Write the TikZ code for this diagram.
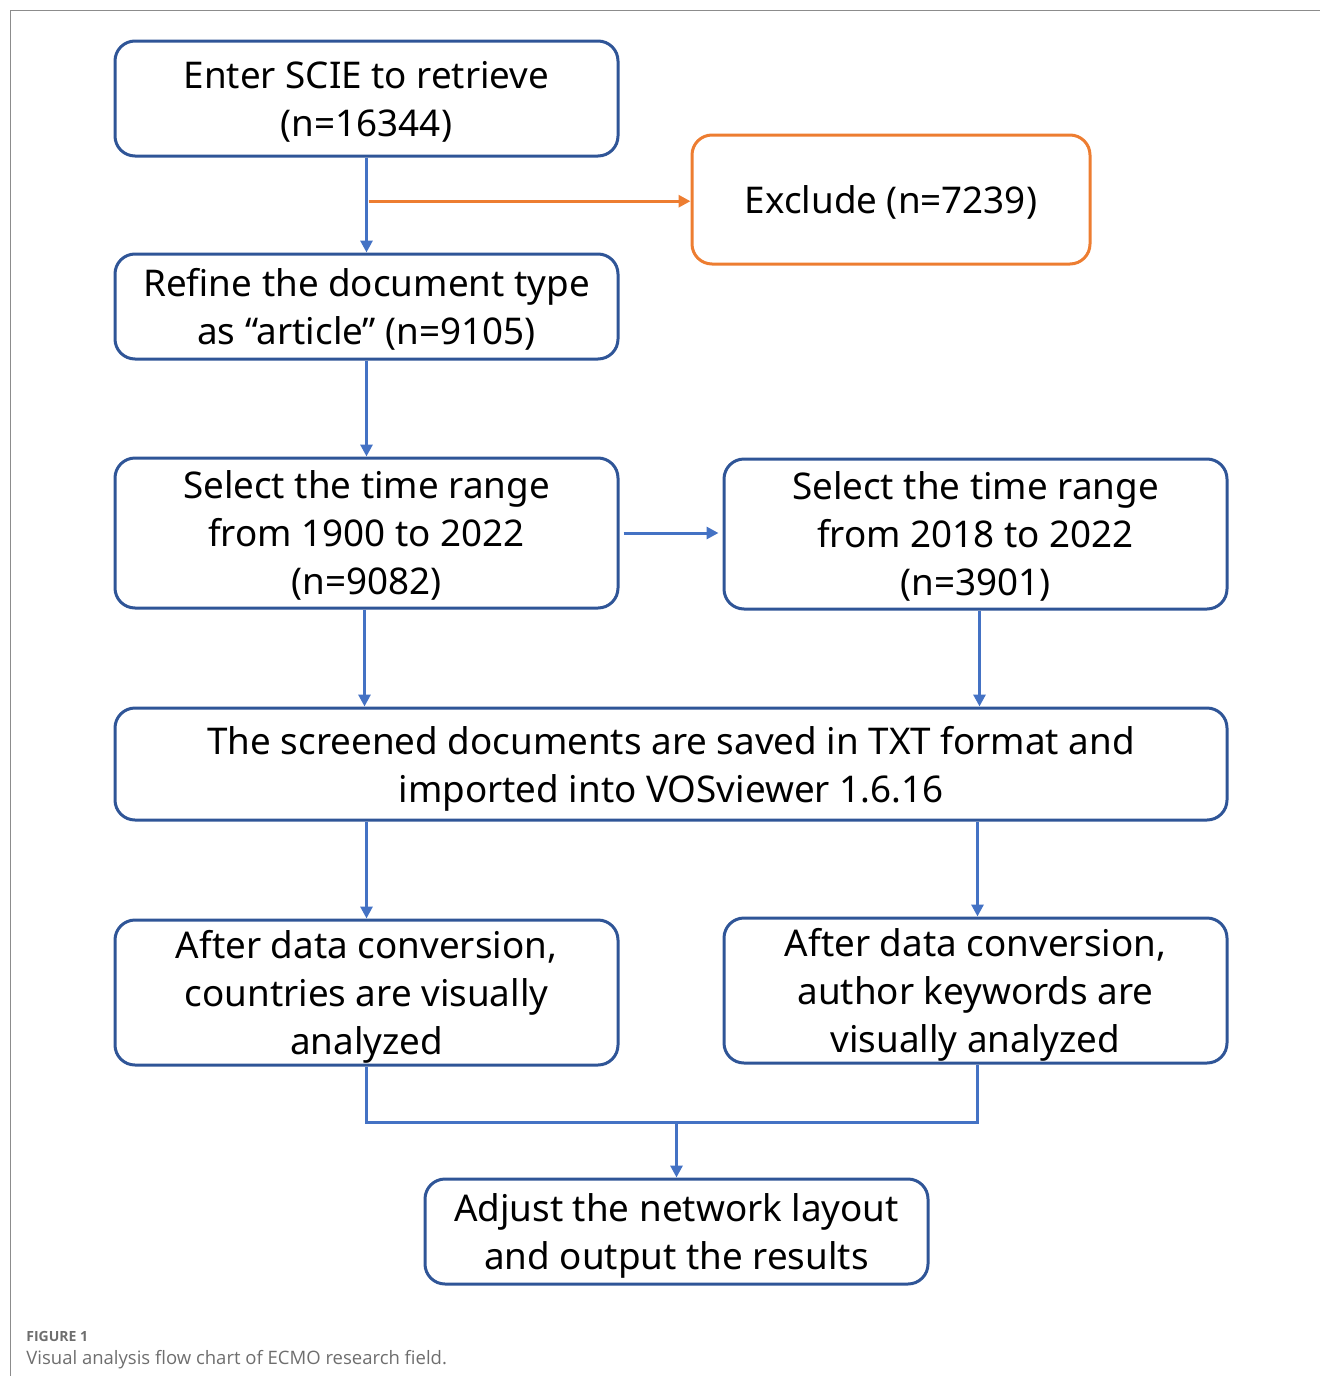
\documentclass[tikz,border=0pt]{standalone}
\usepackage{fontspec}
\setmainfont{Noto Sans}
\newfontfamily\captionfont{Open Sans}
\usetikzlibrary{arrows.meta,calc}
\definecolor{boxblue}{HTML}{2F5597}
\definecolor{linkblue}{HTML}{4472C4}
\definecolor{exclorange}{HTML}{ED7D31}
\definecolor{framegray}{HTML}{8C8C8C}
\definecolor{capgray}{HTML}{6E6E6E}
\tikzset{
  stepbox/.style={draw=boxblue, line width=1.5pt, rounded corners=10pt, align=center,
    font=\fontsize{18.4}{24}\selectfont, inner sep=0pt, text depth=0pt},
  exclbox/.style={stepbox, draw=exclorange},
  link/.style={draw=linkblue, line width=1.5pt, -{Triangle[length=6pt,width=6pt]}},
  exlink/.style={link, draw=exclorange, fill=exclorange}
}
\begin{document}
\begin{tikzpicture}[x=0.5pt,y=-0.5pt]
  %%%%% FRAME %%%%%
  \useasboundingbox (0,0) rectangle (1320,1376);
  \draw[framegray, line width=0.5pt] (1320,10) -- (10,10) -- (10,1376);

  %%%%% BOXES %%%%%
  \node[stepbox, minimum width=251.5pt, minimum height=57.5pt] (enter) at (366.5,98.5)
    {Enter SCIE to retrieve\\(n=16344)};
  \node[exclbox, minimum width=199pt, minimum height=64.5pt] (exclude) at (891,199.5)
    {Exclude (n=7239)};
  \node[stepbox, minimum width=251.5pt, minimum height=52.5pt] (refine) at (366.5,306.5)
    {Refine the document type\\as “article” (n=9105)};
  \node[stepbox, minimum width=251.5pt, minimum height=75pt] (rangeall) at (366.5,533)
    {Select the time range\\from 1900 to 2022\\(n=9082)};
  \node[stepbox, minimum width=251.5pt, minimum height=75pt] (rangenew) at (975.5,534)
    {Select the time range\\from 2018 to 2022\\(n=3901)};
  \node[stepbox, minimum width=556pt, minimum height=56pt] (import) at (671,764)
    {The screened documents are saved in TXT format and\\imported into VOSviewer 1.6.16};
  \node[stepbox, minimum width=251.5pt, minimum height=72.5pt] (countries) at (366.5,992.5)
    {After data conversion,\\countries are visually\\analyzed};
  \node[stepbox, minimum width=251.5pt, minimum height=72.5pt] (keywords) at (975.5,990.5)
    {After data conversion,\\author keywords are\\visually analyzed};
  \node[stepbox, minimum width=251.5pt, minimum height=52.5pt] (adjust) at (676.5,1231.5)
    {Adjust the network layout\\and output the results};

  %%%%% LINKS %%%%%
  \draw[link] (enter.south) -- (refine.north);
  \coordinate (split) at ($(enter.south)!0.46!(refine.north)$);
  \draw[exlink] ([xshift=1pt]split) -- (split -| exclude.west);
  \draw[link] (refine.south) -- (rangeall.north);
  \draw[link, shorten <=2pt, shorten >=2pt] (rangeall.east) -- (rangeall.east -| rangenew.west);
  \draw[link] ([xshift=-1pt]rangeall.south) -- ([xshift=-1pt]rangeall.south |- import.north);
  \draw[link] ([xshift=2pt]rangenew.south) -- ([xshift=2pt]rangenew.south |- import.north);
  \draw[link] (countries.north |- import.south) -- (countries.north);
  \draw[link] ([xshift=1pt]keywords.north |- import.south) -- ([xshift=1pt]keywords.north);
  \coordinate (merge) at ($(countries.south)+(0,56)$);
  \draw[linkblue, line width=1.5pt] (countries.south) -- (merge) -| ([xshift=1pt]keywords.south);
  \draw[link] (adjust.north |- merge) -- (adjust.north);

  %%%%% CAPTION %%%%%
  \node[anchor=base west, inner sep=0pt, text=capgray, font=\captionfont\bfseries\fontsize{7}{8}\selectfont]
    (figlabel) at (26,1341) {FIGURE 1};
  \node[anchor=base west, inner sep=0pt, text=capgray, font=\captionfont\fontsize{9.25}{11}\selectfont]
    (figcaption) at (26,1364) {Visual analysis flow chart of ECMO research field.};
\end{tikzpicture}
\end{document}
